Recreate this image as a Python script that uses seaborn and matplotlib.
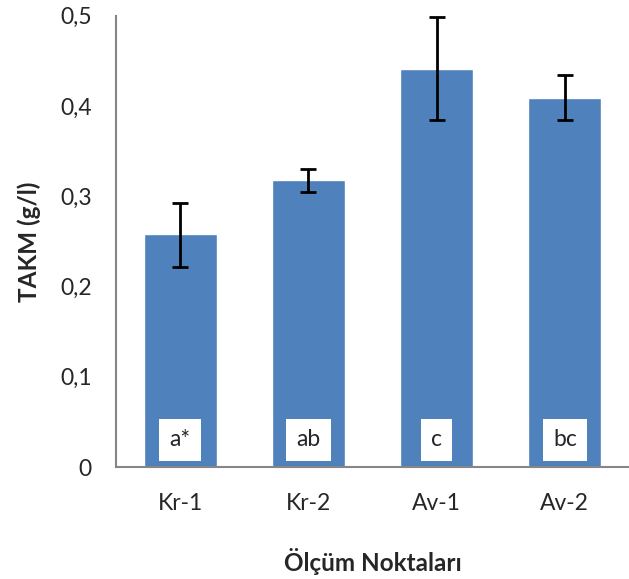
import matplotlib
matplotlib.use("Agg")
import matplotlib.pyplot as plt
import seaborn as sns
import pandas as pd

sns.set_style("white")
plt.rcParams['font.family'] = ['Lato', 'DejaVu Sans']

# Values
points = ["Kr-1", "Kr-2", "Av-1", "Av-2"]
means = [0.258, 0.318, 0.441, 0.409]
err_low = [0.036, 0.013, 0.057, 0.025]
err_high = [0.035, 0.012, 0.057, 0.025]
letters = ["a*", "ab", "c", "bc"]

df = pd.DataFrame({"point": points, "takm": means})

fig = plt.figure(figsize=(6.29, 5.79), dpi=100)
ax = fig.add_axes([0.1844, 0.1934, 0.8156, 0.7795])

sns.barplot(data=df, x="point", y="takm", color="#4F81BD", saturation=1,
            width=0.57, ax=ax)
ax.errorbar(range(len(points)), means, yerr=[err_low, err_high], fmt="none",
            ecolor="black", elinewidth=2, capsize=6, capthick=2)

for i, lab in enumerate(letters):
    ax.text(i, 0.03, lab, ha="center", va="center", fontsize=16.5,
            bbox=dict(boxstyle="square,pad=0.45", fc="white", ec="none"))

ax.set_xlim(-0.5, 3.5)
ax.set_ylim(0, 0.5)
ax.set_yticks([0, 0.1, 0.2, 0.3, 0.4, 0.5])
ax.set_yticklabels(["0", "0,1", "0,2", "0,3", "0,4", "0,5"])
ax.set_xticks([-0.5, 0.5, 1.5, 2.5, 3.5], minor=True)

ax.tick_params(axis="x", which="major", length=0, pad=19, labelsize=16.5)
ax.tick_params(axis="x", which="minor", length=6.5, width=1.5, color="#868686",
               direction="out")
ax.tick_params(axis="y", length=6.5, width=1.5, color="#868686", direction="out",
               labelsize=16.5, pad=11)

for s in ["top", "right"]:
    ax.spines[s].set_visible(False)
for s in ["left", "bottom"]:
    ax.spines[s].set_color("#868686")
    ax.spines[s].set_linewidth(1.5)

ax.set_xlabel("Ölçüm Noktaları", fontsize=17.5, fontweight="bold", labelpad=24)
ax.set_ylabel("TAKM (g/l)", fontsize=17.5, fontweight="bold", labelpad=14)

fig.savefig("out.png", dpi=100)
